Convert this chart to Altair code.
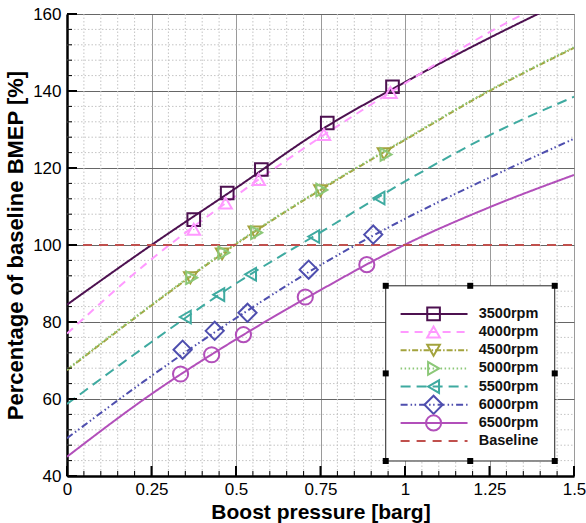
import altair as alt
import pandas as pd
import numpy as np

# ---------------- data ----------------
series = ["3500rpm", "4000rpm", "4500rpm", "5000rpm", "5500rpm", "6000rpm", "6500rpm", "Baseline"]
line_colors = ["#4d1150", "#ff99ff", "#a3a33d", "#8cc878", "#3eaaa0", "#4e4eae", "#b24fba", "#c0504d"]
mark_colors = ["#4d1150", "#ff99ff", "#a3a33d", "#5aac3e", "#3eaaa0", "#4e4eae", "#b24fba", "#c0504d"]
dashes = [[1, 0], [8, 6], [6, 2, 1.5, 2], [1.5, 2.5], [10, 6], [7, 3, 1.5, 2.5, 1.5, 3], [1, 0], [9, 7]]
shapes = ["square", "triangle-up", "triangle-down", "triangle-right", "triangle-left", "diamond", "circle"]
sizes = [160, 160, 160, 160, 160, 330, 230]

fit_x = [0, 0.25, 0.5, 0.75, 1.0, 1.25, 1.5]
fit_3500 = [84.5, 100, 114.8, 129.8, 142.3, 153.8, 164.5]
fit_4000 = [77, 96.3, 112.8, 128, 142, 155.3, 166.5]
fit_4500 = [67.5, 84.3, 100.2, 114.3, 127.3, 140, 151.2]
fit_5000 = [67.7, 84.5, 100.4, 114.5, 127.5, 140.2, 151.4]
fit_5500 = [58.7, 74.8, 90, 103.3, 116.5, 128.5, 138.5]
fit_6000 = [49.8, 66, 81, 94.8, 106.8, 117.5, 127.6]
fit_6500 = [45, 61.3, 75.5, 88.3, 100.1, 109.8, 118.2]
fit_base = [100, 100, 100, 100, 100, 100, 100]

pts_x_3500 = [0.375, 0.474, 0.575, 0.77, 0.963]
pts_y_3500 = [106.6, 113.5, 119.6, 131.7, 141.1]
pts_x_4000 = [0.375, 0.469, 0.567, 0.76, 0.957]
pts_y_4000 = [104.1, 110.9, 117, 128.7, 139.6]
pts_x_4500 = [0.365, 0.459, 0.556, 0.75, 0.938]
pts_y_4500 = [91.5, 97.7, 103.4, 114.1, 123.7]
pts_x_5000 = [0.369, 0.464, 0.561, 0.754, 0.944]
pts_y_5000 = [91.5, 98, 103.2, 114.3, 123.5]
pts_x_5500 = [0.35, 0.449, 0.543, 0.73, 0.923]
pts_y_5500 = [81.3, 87.1, 92.4, 102.2, 112.2]
pts_x_6000 = [0.342, 0.437, 0.534, 0.715, 0.906]
pts_y_6000 = [72.8, 77.7, 82.4, 93.6, 102.7]
pts_x_6500 = [0.336, 0.428, 0.522, 0.705, 0.887]
pts_y_6500 = [66.5, 71.5, 76.7, 86.5, 94.9]

x_major = [0, 0.25, 0.5, 0.75, 1.0, 1.25, 1.5]
y_major = [40, 60, 80, 100, 120, 140, 160]
x_minor = [round(0.05 * i, 2) for i in range(31) if i % 5 != 0]
y_minor = [40 + 4 * i for i in range(31) if i % 5 != 0]

# ---------------- tables ----------------
fits = [fit_3500, fit_4000, fit_4500, fit_5000, fit_5500, fit_6000, fit_6500, fit_base]
lines_df = pd.DataFrame([
    {"series": s, "x": x, "v": v, "o": i}
    for s, f in zip(series, fits) for i, (x, v) in enumerate(zip(fit_x, f))
])
pts = [(pts_x_3500, pts_y_3500), (pts_x_4000, pts_y_4000), (pts_x_4500, pts_y_4500),
       (pts_x_5000, pts_y_5000), (pts_x_5500, pts_y_5500), (pts_x_6000, pts_y_6000),
       (pts_x_6500, pts_y_6500)]
pts_df = pd.DataFrame([
    {"series": s, "x": x, "v": v}
    for s, (xs, vs) in zip(series, pts) for x, v in zip(xs, vs)
])

W, H = 507, 462

xs = alt.Scale(domain=[0, 1.5], nice=False, zero=False)
ys = alt.Scale(domain=[40, 160], nice=False, zero=False)
col_line = alt.Scale(domain=series, range=line_colors)
col_mark = alt.Scale(domain=series, range=mark_colors)
dash_sc = alt.Scale(domain=series, range=dashes)
shape_sc = alt.Scale(domain=series[:7], range=shapes)
size_sc = alt.Scale(type="ordinal", domain=series[:7], range=sizes)

font = "Liberation Sans"

x_axis = alt.Axis(values=x_major, labelExpr="datum.value + ''", title="Boost pressure [barg]",
                  grid=True, gridColor="#9a9a9a", gridWidth=1, ticks=False,
                  domainColor="black", domainWidth=2.5, labelFontSize=17, labelFont=font,
                  labelColor="black", labelPadding=5, labelFlush=False,
                  titleFontSize=21, titleFont=font, titleFontWeight="bold", titleColor="black",
                  titlePadding=4)
y_axis = alt.Axis(values=y_major, title="Percentage of baseline BMEP [%]",
                  grid=True, gridColor="#666666", gridWidth=1, ticks=False,
                  domainColor="black", domainWidth=2.5, labelFontSize=17, labelFont=font,
                  labelColor="black", labelPadding=6,
                  titleFontSize=22, titleFont=font, titleFontWeight="bold", titleColor="black",
                  titlePadding=5)

# minor grid
mgx = alt.Chart(pd.DataFrame({"x": x_minor})).mark_rule(color="#c4c4c4", strokeDash=[1.5, 2], strokeWidth=1).encode(
    x=alt.X("x:Q", scale=xs, axis=x_axis), y=alt.value(0), y2=alt.value(H))
mgy = alt.Chart(pd.DataFrame({"y": y_minor})).mark_rule(color="#c4c4c4", strokeDash=[1.5, 2], strokeWidth=1).encode(
    y=alt.Y("y:Q", scale=ys, axis=y_axis), x=alt.value(0), x2=alt.value(W))

# inward ticks
tk_bx_min = alt.Chart(pd.DataFrame({"x": x_minor})).mark_rule(color="black", strokeWidth=1).encode(
    x=alt.X("x:Q", scale=xs), y=alt.value(H), y2=alt.value(H - 5))
tk_bx_maj = alt.Chart(pd.DataFrame({"x": x_major})).mark_rule(color="black", strokeWidth=2).encode(
    x=alt.X("x:Q", scale=xs), y=alt.value(H), y2=alt.value(H - 10))
tk_ly_min = alt.Chart(pd.DataFrame({"y": y_minor})).mark_rule(color="black", strokeWidth=1).encode(
    y=alt.Y("y:Q", scale=ys), x=alt.value(0), x2=alt.value(5))
tk_ly_maj = alt.Chart(pd.DataFrame({"y": y_major})).mark_rule(color="black", strokeWidth=2).encode(
    y=alt.Y("y:Q", scale=ys), x=alt.value(0), x2=alt.value(10))

lines = alt.Chart(lines_df).mark_line(clip=True, interpolate="monotone", strokeWidth=2).encode(
    x=alt.X("x:Q", scale=xs),
    y=alt.Y("v:Q", scale=ys),
    color=alt.Color("series:N", scale=col_line, legend=None),
    strokeDash=alt.StrokeDash("series:N", scale=dash_sc, legend=None),
    order="o:Q",
)

points = alt.Chart(pts_df).mark_point(filled=False, strokeWidth=2, opacity=1).encode(
    x=alt.X("x:Q", scale=xs),
    y=alt.Y("v:Q", scale=ys),
    color=alt.Color("series:N", scale=col_mark, legend=None),
    shape=alt.Shape("series:N", scale=shape_sc, legend=None),
    size=alt.Size("series:N", scale=size_sc, legend=None),
)

# ---------------- custom legend (data coordinates) ----------------
box_x1, box_x2, box_y1, box_y2 = 0.943, 1.443, 89.4, 43.9
leg_x1, leg_x2, leg_mx, leg_tx = 0.987, 1.185, 1.0845, 1.218
leg_top, leg_step = 82.1, 4.72
leg_df = pd.DataFrame({
    "series": series,
    "ly": [leg_top - i * leg_step for i in range(len(series))],
    "x1": leg_x1, "x2": leg_x2, "mx": leg_mx, "tx": leg_tx,
})
box = alt.Chart(pd.DataFrame({"a": [box_x1], "b": [box_x2], "c": [box_y1], "d": [box_y2]})).mark_rect(
    fill="white", stroke="#222222", strokeWidth=1).encode(
    x=alt.X("a:Q", scale=xs), x2="b:Q", y=alt.Y("c:Q", scale=ys), y2="d:Q")
leg_lines = alt.Chart(leg_df).mark_rule(strokeWidth=2).encode(
    x=alt.X("x1:Q", scale=xs), x2="x2:Q", y=alt.Y("ly:Q", scale=ys),
    color=alt.Color("series:N", scale=col_line, legend=None),
    strokeDash=alt.StrokeDash("series:N", scale=dash_sc, legend=None))
leg_pts = alt.Chart(leg_df[leg_df.series != "Baseline"]).mark_point(filled=False, strokeWidth=2, opacity=1).encode(
    x=alt.X("mx:Q", scale=xs), y=alt.Y("ly:Q", scale=ys),
    color=alt.Color("series:N", scale=col_mark, legend=None),
    shape=alt.Shape("series:N", scale=shape_sc, legend=None),
    size=alt.Size("series:N", scale=size_sc, legend=None))
leg_text = alt.Chart(leg_df).mark_text(align="left", baseline="middle", fontSize=14.5, fontWeight="bold",
                                       font=font, color="#111111").encode(
    x=alt.X("tx:Q", scale=xs), y=alt.Y("ly:Q", scale=ys), text="series:N")
hx = [box_x1, (box_x1 + box_x2) / 2, box_x2]
hy = [box_y1, (box_y1 + box_y2) / 2, box_y2]
handles_df = pd.DataFrame([{"x": a, "y": b} for a in hx for b in hy if not (a == hx[1] and b == hy[1])])
handles = alt.Chart(handles_df).mark_square(color="black", size=36, opacity=1).encode(
    x=alt.X("x:Q", scale=xs), y=alt.Y("y:Q", scale=ys))

chart = alt.layer(
    mgx, mgy, lines, points, tk_bx_min, tk_bx_maj, tk_ly_min, tk_ly_maj,
    box, leg_lines, leg_pts, leg_text, handles,
).properties(
    width=W, height=H,
    autosize=alt.AutoSizeParams(type="none"),
    padding={"left": 67, "top": 14, "right": 12, "bottom": 47},
    background="white",
).configure_view(stroke="#8a8a8a", strokeWidth=1)

chart.save("out.html", embed_options={"renderer": "svg", "actions": False})
